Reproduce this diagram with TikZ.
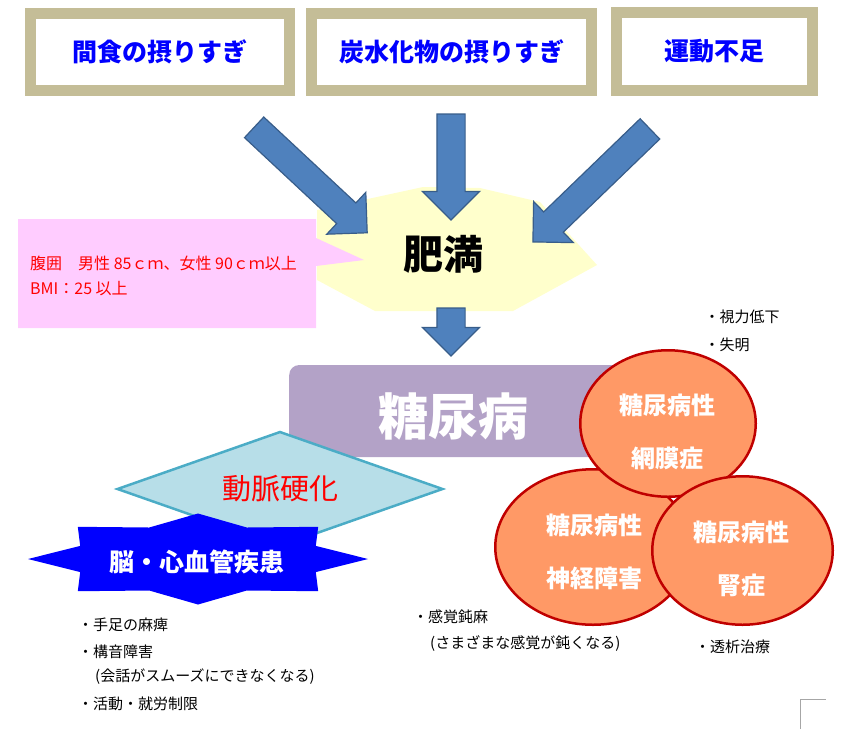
\documentclass[tikz,border=0pt]{standalone}
\usepackage{fontspec}
\setmainfont{Noto Sans CJK JP}
\usepackage{xcolor}
\usepackage{tikz}
\usetikzlibrary{arrows.meta,positioning,shapes.geometric,shapes.arrows}
\definecolor{FrameTan}{HTML}{C4BD97}
\definecolor{CauseBlue}{HTML}{0000FF}
\definecolor{ArrowBlue}{HTML}{4F81BD}
\definecolor{ArrowEdge}{HTML}{385D8A}
\definecolor{ObeseYellow}{HTML}{FFFFCC}
\definecolor{CalloutPink}{HTML}{FFCCFF}
\definecolor{DiabetesPurple}{HTML}{B3A2C7}
\definecolor{SclerosisFill}{HTML}{B7DEE8}
\definecolor{SclerosisEdge}{HTML}{4BACC6}
\definecolor{CircleFill}{HTML}{FF9966}
\definecolor{CircleEdge}{HTML}{C00000}

\begin{document}
\begin{tikzpicture}[
    x=1pt, y=-1pt,
    cause/.style={draw=FrameTan, line width=11pt, fill=white, inner sep=0pt,
      minimum height=77pt, text=CauseBlue, font=\fontsize{25}{30}\selectfont\bfseries},
    blockarrow/.style={single arrow, draw=ArrowEdge, fill=ArrowBlue, line width=1.2pt,
      minimum width=56pt, single arrow head extend=14.5pt, single arrow tip angle=90,
      inner xsep=0pt, inner ysep=13.5pt, outer sep=0pt},
    complication/.style={ellipse, draw=CircleEdge, line width=2.5pt, fill=CircleFill, inner sep=0pt},
    comptext/.style={text=white, align=center, font=\fontsize{24}{53}\selectfont\bfseries},
    note/.style={anchor=west, inner sep=0pt, font=\fontsize{15}{18}\selectfont},
    calloutline/.style={anchor=west, inner sep=0pt, text=red, font=\fontsize{16}{20}\selectfont}
  ]
    \useasboundingbox (0,0) rectangle (845,729);

    % causes
    \node[cause, minimum width=259pt] (snack) at (160,52) {間食の摂りすぎ};
    \node[cause, minimum width=280pt] (carbs) at (451.5,52) {炭水化物の摂りすぎ};
    \node[cause, minimum width=196pt, minimum height=78pt] (exercise) at (714.5,51.5) {運動不足};

    % obesity
    \fill[ObeseYellow] (317,210) -- (423,187) -- (480,188) -- (540,202) -- (597,265)
      -- (513,311) -- (375,311) -- (317,280) -- cycle;
    \fill[CalloutPink] (18,219) -- (316,219) -- (316,238) -- (364,260) -- (316,266)
      -- (316,328) -- (18,328) -- cycle;
    \node[calloutline] (waist) at (30,263) {腹囲　男性 85ｃｍ、女性 90ｃｍ以上};
    \node[calloutline] (bmi) at (30,289) {BMI：25 以上};

    \node[blockarrow, minimum height=154.6pt, rotate=-43] (snackarrow) at (305.5,175.25) {};
    \node[blockarrow, minimum height=106pt, rotate=-90] (carbsarrow) at (451,160) {};
    \node[blockarrow, minimum height=162.7pt, rotate=-136] (exercisearrow) at (596.5,180.5) {};
    \node[font=\fontsize{40}{44}\selectfont\bfseries] (obesity) at (443,254) {肥満};
    \node[blockarrow, minimum height=48pt, rotate=-90] (obesityarrow) at (451,325) {};

    % diabetes
    \node[fill=DiabetesPurple, rounded corners=10pt, minimum width=371pt, minimum height=92pt,
      anchor=west, inner sep=0pt] (diabetesbox) at (289,411) {};
    \node[text=white, font=\fontsize{50}{54}\selectfont\bfseries] (diabetes) at (453,416) {糖尿病};

    % arteriosclerosis and cardiovascular disease
    \node[diamond, aspect=2.83, draw=SclerosisEdge, line width=2.5pt, fill=SclerosisFill,
      minimum width=326pt, minimum height=115pt, text=red,
      font=\fontsize{29}{32}\selectfont] (sclerosis) at (280,489) {動脈硬化};
    \fill[CauseBlue] (368,559) -- (315.8,545.9) -- (318.2,526.8) -- (246.8,527.5) -- (198,513.5)
      -- (149.2,527.5) -- (77.8,526.8) -- (80.2,545.9) -- (28,559) -- (80.2,572.1)
      -- (77.8,591.2) -- (149.2,590.5) -- (198,604.5) -- (246.8,590.5) -- (318.2,591.2)
      -- (315.8,572.1) -- cycle;
    \node[text=white, font=\fontsize{25}{28}\selectfont\bfseries] (cardio) at (197,562) {脳・心血管疾患};

    % complications
    \node[complication, minimum width=195.5pt, minimum height=155.5pt] (neuro) at (593,547) {};
    \node[complication, minimum width=175.5pt, minimum height=146.5pt] (retina) at (668,423.5) {};
    \node[complication, minimum width=180.5pt, minimum height=148.5pt] (kidney) at (742.5,550.5) {};
    \node[comptext] (retinatext) at ([xshift=-0.5pt, yshift=-8pt]retina.center) {糖尿病性\\網膜症};
    \node[comptext] (neurotext) at ([xshift=1pt, yshift=-4.5pt]neuro.center) {糖尿病性\\神経障害};
    \node[comptext] (kidneytext) at ([xshift=-1.5pt, yshift=-8.5pt]kidney.center) {糖尿病性\\腎症};

    % symptoms
    \node[note] (vision) at (704.5,317) {・視力低下};
    \node[note] (blind) at (704.5,345) {・失明};
    \node[note] (paralysis) at (78,625) {・手足の麻痺};
    \node[note] (dysarthria) at (78,652) {・構音障害};
    \node[note] (speech) at (95,677) {(会話がスムーズにできなくなる)};
    \node[note] (activity) at (78,704) {・活動・就労制限};
    \node[note] (numbness) at (413,617) {・感覚鈍麻};
    \node[note] (sensation) at (430,643) {(さまざまな感覚が鈍くなる)};
    \node[note] (dialysis) at (695,647) {・透析治療};

    \draw[gray!70, line width=1pt] (800,729) -- (800,699) -- (826,699);
  \end{tikzpicture}
\end{document}
